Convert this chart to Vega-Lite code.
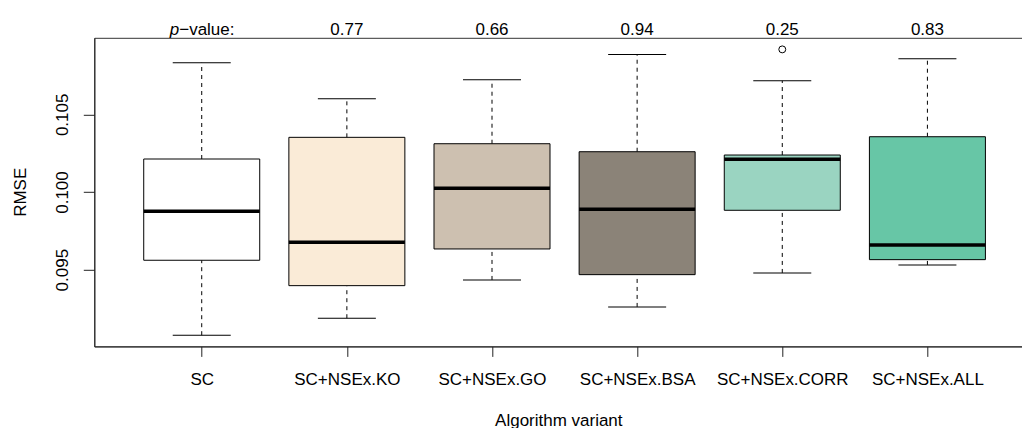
{
  "$schema": "https://vega.github.io/schema/vega-lite/v6.json",
  "width": 928,
  "height": 308.6,
  "autosize": {"type": "none"},
  "padding": {"left": 94.3, "top": 37.8, "right": 0, "bottom": 81.6},
  "background": "#ffffff",
  "config": {
    "view": {"stroke": "#333333", "strokeWidth": 1},
    "font": "Liberation Sans",
    "axis": {
      "domainColor": "#222222",
      "domainWidth": 1,
      "tickColor": "#222222",
      "tickWidth": 1,
      "labelColor": "#000000",
      "titleColor": "#000000",
      "labelFont": "Liberation Sans",
      "titleFont": "Liberation Sans",
      "labelFontSize": 17,
      "titleFontSize": 17,
      "titleFontWeight": "normal",
      "grid": false
    }
  },
  "datasets": {
    "boxes": [
      {"variant": "SC", "lo": 0.090779, "q1": 0.095605, "med": 0.098758, "q3": 0.102124, "hi": 0.108321, "p": null},
      {"variant": "SC+NSEx.KO", "lo": 0.091873, "q1": 0.093970, "med": 0.096763, "q3": 0.103520, "hi": 0.106004, "p": "0.77"},
      {"variant": "SC+NSEx.GO", "lo": 0.094337, "q1": 0.096332, "med": 0.100238, "q3": 0.103108, "hi": 0.107227, "p": "0.66"},
      {"variant": "SC+NSEx.BSA", "lo": 0.092600, "q1": 0.094678, "med": 0.098887, "q3": 0.102593, "hi": 0.108861, "p": "0.94"},
      {"variant": "SC+NSEx.CORR", "lo": 0.094788, "q1": 0.098822, "med": 0.102104, "q3": 0.102381, "hi": 0.107162, "p": "0.25"},
      {"variant": "SC+NSEx.ALL", "lo": 0.095302, "q1": 0.095644, "med": 0.096589, "q3": 0.103559, "hi": 0.108578, "p": "0.83"}
    ],
    "outliers": [
      {"variant": "SC+NSEx.CORR", "value": 0.109183}
    ]
  },
  "layer": [
    {
      "data": {"name": "boxes"},
      "mark": {"type": "rule", "strokeDash": [4, 4], "color": "#000000", "strokeWidth": 1},
      "encoding": {
        "x": {
          "field": "variant", "type": "nominal",
          "scale": {"type": "point", "domain": ["SC", "SC+NSEx.KO", "SC+NSEx.GO", "SC+NSEx.BSA", "SC+NSEx.CORR", "SC+NSEx.ALL"], "padding": 0.697, "align": 0.531},
          "axis": {"orient": "bottom", "title": "Algorithm variant", "labelAngle": 0, "tickSize": 10, "labelPadding": 15.3, "labelBaseline": "top", "titleY": 79.6, "titleBaseline": "alphabetic", "domain": true}
        },
        "y": {
          "field": "lo", "type": "quantitative",
          "scale": {"domain": [0.090058, 0.109929], "nice": false, "zero": false},
          "axis": {"title": "RMSE", "values": [0.095, 0.1, 0.105], "format": ".3f", "labelAngle": -90, "labelAlign": "center", "labelBaseline": "bottom", "labelPadding": 12, "tickSize": 11, "titleX": -74, "titleY": 154, "titleAngle": -90, "titleBaseline": "middle", "titleAlign": "center"}
        },
        "y2": {"field": "q1"}
      }
    },
    {
      "data": {"name": "boxes"},
      "mark": {"type": "rule", "strokeDash": [4, 4], "color": "#000000", "strokeWidth": 1},
      "encoding": {
        "x": {"field": "variant", "type": "nominal"},
        "y": {"field": "q3", "type": "quantitative"},
        "y2": {"field": "hi"}
      }
    },
    {
      "data": {"name": "boxes"},
      "mark": {"type": "tick", "orient": "horizontal", "size": 58, "thickness": 1, "color": "#000000", "opacity": 1},
      "encoding": {
        "x": {"field": "variant", "type": "nominal"},
        "y": {"field": "lo", "type": "quantitative"}
      }
    },
    {
      "data": {"name": "boxes"},
      "mark": {"type": "tick", "orient": "horizontal", "size": 58, "thickness": 1, "color": "#000000", "opacity": 1},
      "encoding": {
        "x": {"field": "variant", "type": "nominal"},
        "y": {"field": "hi", "type": "quantitative"}
      }
    },
    {
      "data": {"name": "boxes"},
      "mark": {"type": "bar", "size": 116, "stroke": "#000000", "strokeWidth": 1, "opacity": 1},
      "encoding": {
        "x": {"field": "variant", "type": "nominal"},
        "y": {"field": "q1", "type": "quantitative"},
        "y2": {"field": "q3"},
        "fill": {
          "field": "variant", "type": "nominal", "legend": null,
          "scale": {"domain": ["SC", "SC+NSEx.KO", "SC+NSEx.GO", "SC+NSEx.BSA", "SC+NSEx.CORR", "SC+NSEx.ALL"], "range": ["#FFFFFF", "#FAEBD7", "#CDC0B0", "#8B8378", "#9AD4C1", "#67C6A6"]}
        }
      }
    },
    {
      "data": {"name": "boxes"},
      "mark": {"type": "tick", "orient": "horizontal", "size": 116, "thickness": 3.5, "color": "#000000", "opacity": 1},
      "encoding": {
        "x": {"field": "variant", "type": "nominal"},
        "y": {"field": "med", "type": "quantitative"}
      }
    },
    {
      "data": {"name": "outliers"},
      "mark": {"type": "point", "shape": "circle", "filled": false, "size": 48, "stroke": "#000000", "strokeWidth": 1, "opacity": 1},
      "encoding": {
        "x": {"field": "variant", "type": "nominal"},
        "y": {"field": "value", "type": "quantitative"}
      }
    },
    {
      "data": {"name": "boxes"},
      "transform": [{"filter": "datum.p != null"}],
      "mark": {"type": "text", "fontSize": 17, "color": "#000000", "align": "center", "baseline": "alphabetic", "clip": false},
      "encoding": {
        "x": {"field": "variant", "type": "nominal"},
        "y": {"datum": 0.11010, "type": "quantitative"},
        "text": {"field": "p"}
      }
    },
    {
      "data": {"name": "boxes"},
      "transform": [{"filter": "datum.variant == 'SC'"}],
      "mark": {"type": "text", "fontSize": 17, "fontStyle": "italic", "color": "#000000", "align": "left", "baseline": "alphabetic", "dx": -32, "clip": false},
      "encoding": {
        "x": {"field": "variant", "type": "nominal"},
        "y": {"datum": 0.11010, "type": "quantitative"},
        "text": {"value": "p"}
      }
    },
    {
      "data": {"name": "boxes"},
      "transform": [{"filter": "datum.variant == 'SC'"}],
      "mark": {"type": "text", "fontSize": 17, "color": "#000000", "align": "left", "baseline": "alphabetic", "dx": -22.5, "clip": false},
      "encoding": {
        "x": {"field": "variant", "type": "nominal"},
        "y": {"datum": 0.11010, "type": "quantitative"},
        "text": {"value": "−value:"}
      }
    }
  ]
}
